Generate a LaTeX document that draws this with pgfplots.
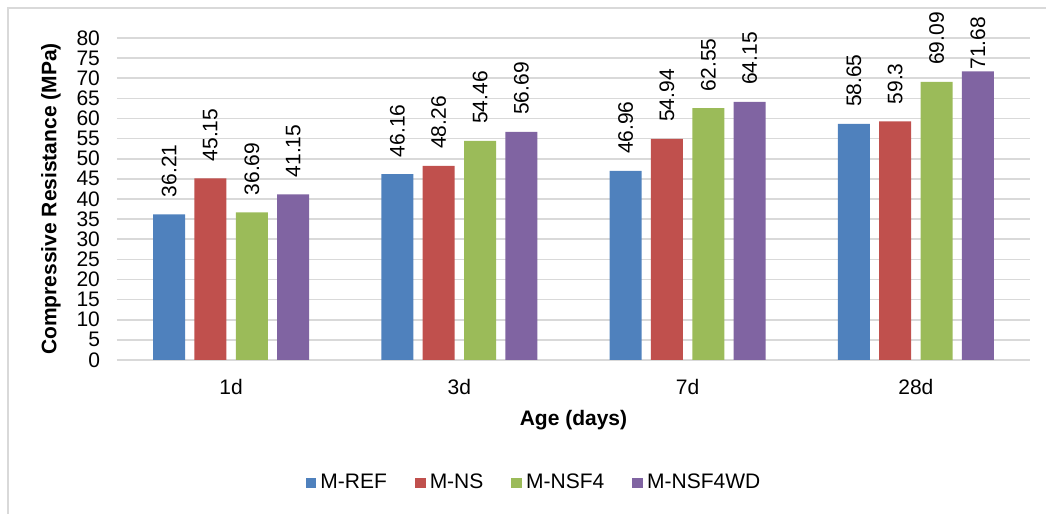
\documentclass[border=0pt]{standalone}
\usepackage{pgfplots}
\pgfplotsset{compat=1.18}
\usepackage{fontspec}
\setmainfont{Liberation Sans}
\definecolor{cblue}{RGB}{79,129,189}
\definecolor{cred}{RGB}{192,80,77}
\definecolor{cgreen}{RGB}{155,187,89}
\definecolor{cpurple}{RGB}{128,100,162}
\definecolor{gridc}{RGB}{217,217,217}
\begin{document}
\begin{tikzpicture}[x=1pt,y=1pt]
\path[use as bounding box] (-58.5pt,-77pt) rectangle (464.5pt,180pt);
\draw[gridc, line width=1pt] (-54.5pt,-77pt) -- (-54.5pt,176pt) -- (464.5pt,176pt);
\begin{axis}[
  at={(0,0)}, anchor=south west,
  scale only axis,
  width=456.5pt, height=161pt,
  xmin=-0.5, xmax=3.5,
  ymin=0, ymax=80,
  ytick distance=5,
  xtick={0,1,2,3},
  xticklabels={1d,3d,7d,28d},
  axis line style={draw=none},
  tick style={draw=none},
  ymajorgrids,
  grid style={gridc, line width=0.8pt},
  font=\fontsize{10.5}{12.5}\selectfont,
  /pgf/number format/assume math mode=true,
  yticklabel style={xshift=-5pt},
  xticklabel style={yshift=-2pt},
  xlabel={\bfseries Age (days)},
  ylabel={\bfseries Compressive Resistance (MPa)},
  xlabel style={yshift=-1pt},
  ylabel style={yshift=1pt},
  ybar, bar width=0.14,
  nodes near coords,
  visualization depends on={y \as \yv},
  every node near coord/.append style={rotate=90, anchor=west,
    font=\fontsize{10.5}{12.5}\selectfont, black,
    xshift={(\yv>70 ? -2.5 : 5)*1pt}},
  nodes near coords={\pgfmathprintnumber[fixed,precision=2]{\pgfplotspointmeta}},
  legend columns=4,
  legend style={draw=none, at={(209pt,-61.5pt)}, anchor=center, font=\fontsize{10.5}{12.5}\selectfont,
    /tikz/every even column/.append style={column sep=12pt}},
  legend image code/.code={\fill[#1,draw=none] (0pt,-2.7pt) rectangle (5.4pt,2.7pt);},
]
\addplot[fill=cblue, draw=none, bar shift=-0.272] coordinates {(0,36.21) (1,46.16) (2,46.96) (3,58.65)};
\addplot[fill=cred, draw=none, bar shift=-0.091] coordinates {(0,45.15) (1,48.26) (2,54.94) (3,59.3)};
\addplot[fill=cgreen, draw=none, bar shift=0.091] coordinates {(0,36.69) (1,54.46) (2,62.55) (3,69.09)};
\addplot[fill=cpurple, draw=none, bar shift=0.272] coordinates {(0,41.15) (1,56.69) (2,64.15) (3,71.68)};
\legend{M-REF, M-NS, M-NSF4, M-NSF4WD}
\end{axis}
\end{tikzpicture}
\end{document}
